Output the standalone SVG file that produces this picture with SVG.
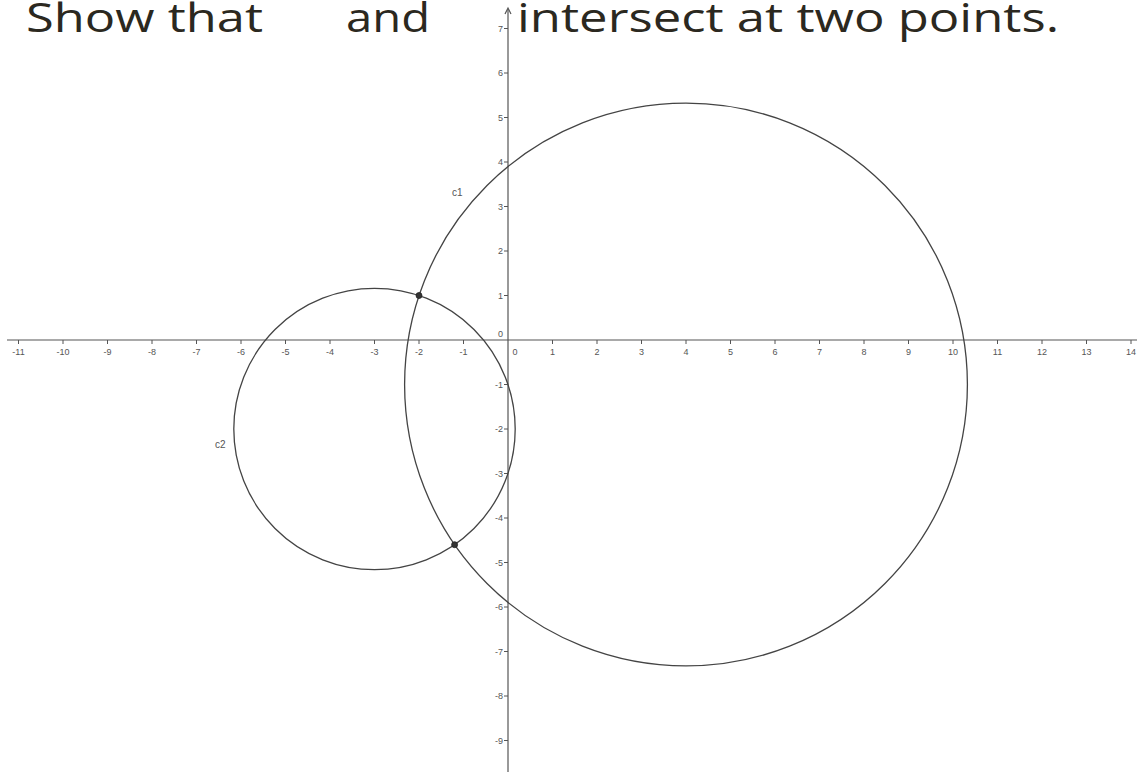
<svg xmlns="http://www.w3.org/2000/svg" width="1137" height="772" viewBox="0 0 1137 772">
  <style>
    .title { font-family: "Open Sans", "Noto Sans", sans-serif; font-size: 40px; fill: #2b2820; }
    .axis { stroke: #555; stroke-width: 1.2; fill: none; }
    .tick { stroke: #555; stroke-width: 1; fill: none; }
    .lbl { font-family: "Liberation Sans", Arial, sans-serif; font-size: 9px; fill: #555; }
    .xl { text-anchor: middle; }
    .yl { text-anchor: end; }
    .curve { stroke: #444; stroke-width: 1.3; fill: none; }
    .pt { fill: #333; stroke: #222; stroke-width: 0.8; }
    .name { font-family: "Liberation Sans", Arial, sans-serif; font-size: 10px; fill: #555; }
  </style>
  <rect width="1137" height="772" fill="#ffffff"/>

  <g id="axes">
    <line class="axis" x1="7" y1="340" x2="1137" y2="340"/>
    <line class="axis" x1="508" y1="9" x2="508" y2="772"/>
    <polyline class="axis" points="505,14 508,8 511,14"/>
    <path class="tick" d="M18.5 340v4M63 340v4M107.5 340v4M152 340v4M196.5 340v4M241 340v4M285.5 340v4M330 340v4M374.5 340v4M419 340v4M463.5 340v4M552.5 340v4M597 340v4M641.5 340v4M686 340v4M730.5 340v4M775 340v4M819.5 340v4M864 340v4M908.5 340v4M953 340v4M997.5 340v4M1042 340v4M1086.5 340v4M1131 340v4"/>
    <path class="tick" d="M504 28.5h4M504 73h4M504 117.5h4M504 162h4M504 206.5h4M504 251h4M504 295.5h4M504 384.5h4M504 429h4M504 473.5h4M504 518h4M504 562.5h4M504 607h4M504 651.5h4M504 696h4M504 740.5h4"/>
  </g>

  <g id="x-labels" class="lbl xl">
    <text x="18.5" y="355">-11</text>
    <text x="63" y="355">-10</text>
    <text x="107.5" y="355">-9</text>
    <text x="152" y="355">-8</text>
    <text x="196.5" y="355">-7</text>
    <text x="241" y="355">-6</text>
    <text x="285.5" y="355">-5</text>
    <text x="330" y="355">-4</text>
    <text x="374.5" y="355">-3</text>
    <text x="419" y="355">-2</text>
    <text x="463.5" y="355">-1</text>
    <text x="515" y="355">0</text>
    <text x="552.5" y="355">1</text>
    <text x="597" y="355">2</text>
    <text x="641.5" y="355">3</text>
    <text x="686" y="355">4</text>
    <text x="730.5" y="355">5</text>
    <text x="775" y="355">6</text>
    <text x="819.5" y="355">7</text>
    <text x="864" y="355">8</text>
    <text x="908.5" y="355">9</text>
    <text x="953" y="355">10</text>
    <text x="997.5" y="355">11</text>
    <text x="1042" y="355">12</text>
    <text x="1086.5" y="355">13</text>
    <text x="1131" y="355">14</text>
  </g>

  <g id="y-labels" class="lbl yl">
    <text x="503" y="31.5">7</text>
    <text x="503" y="76">6</text>
    <text x="503" y="120.5">5</text>
    <text x="503" y="165">4</text>
    <text x="503" y="209.5">3</text>
    <text x="503" y="254">2</text>
    <text x="503" y="298.5">1</text>
    <text x="503" y="337">0</text>
    <text x="503" y="387.5">-1</text>
    <text x="503" y="432">-2</text>
    <text x="503" y="476.5">-3</text>
    <text x="503" y="521">-4</text>
    <text x="503" y="565.5">-5</text>
    <text x="503" y="610">-6</text>
    <text x="503" y="654.5">-7</text>
    <text x="503" y="699">-8</text>
    <text x="503" y="743.5">-9</text>
  </g>

  <g id="c1">
    <circle class="curve" cx="686" cy="384.5" r="281.4"/>
    <text class="name" x="452" y="196">c1</text>
  </g>

  <g id="c2">
    <circle class="curve" cx="374.5" cy="429" r="140.7"/>
    <text class="name" x="215" y="448">c2</text>
  </g>

  <g id="intersection-points">
    <circle class="pt" cx="419" cy="295.5" r="3"/>
    <circle class="pt" cx="454.6" cy="544.7" r="3"/>
  </g>

  <g id="title" class="title">
    <text x="26" y="32" textLength="237" lengthAdjust="spacingAndGlyphs">Show that</text>
    <text x="346" y="32" textLength="84" lengthAdjust="spacingAndGlyphs">and</text>
    <text x="517" y="32" textLength="542" lengthAdjust="spacingAndGlyphs">intersect at two points.</text>
  </g>
</svg>
